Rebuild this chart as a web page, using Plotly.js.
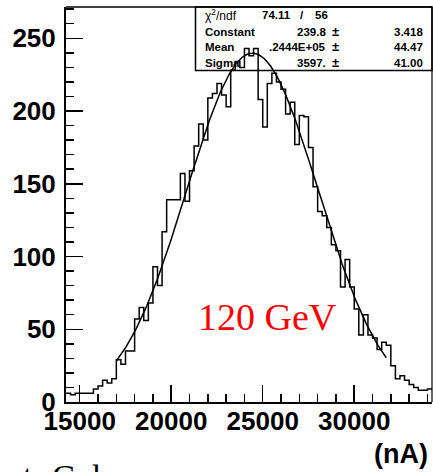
<!DOCTYPE html>
<html>
<head>
<meta charset="utf-8">
<script src="https://cdn.plot.ly/plotly-3.0.1.min.js"></script>
<style>html,body{margin:0;padding:0;background:#fff;}#chart{width:433px;height:472px;}</style>
</head>
<body>
<div id="chart"></div>
<script>
// Histogram binning (nA)
const xMin = 14250;
const binWidth = 250;
// Bin contents (80 bins, 14250..34250)
const counts = [
  6, 5, 6, 6, 6, 6, 9, 11, 15, 13,
  16, 29, 26, 35, 35, 57, 65, 56, 68, 93,
  80, 117, 139, 139, 139, 157, 138, 159, 176, 191,
  180, 209, 212, 219, 211, 203, 228, 234, 230, 243,
  238, 243, 208, 189, 219, 226, 220, 215, 198, 206,
  177, 197, 196, 175, 148, 131, 128, 120, 108, 104,
  79, 98, 79, 64, 46, 60, 46, 44, 36, 41,
  39, 25, 16, 18, 15, 12, 10, 8, 8, 9
];
// Gaussian fit parameters shown in the stats box
const fitConstant = 239.8;
const fitMean = 24440;
const fitSigma = 3597;
const fitLow = 17000;
const fitHigh = 31750;
// Stats box texts
const statLabels = ["Constant", "Mean", "Sigma"];
const statValues = ["239.8", ".2444E+05", "3597."];
const statErrors = ["3.418", "44.47", "41.00"];
const chi2 = "74.11";
const ndf = "56";
// Axis ticks
const xTickStep = 5000, xMinorStep = 1000;
const yTickStep = 50, yMinorStep = 10;
const yMax = 271.5;
const xMax = xMin + binWidth * counts.length;

// step outline of histogram
const stepX = [], stepY = [];
counts.forEach((c, i) => { stepX.push(xMin + i * binWidth); stepY.push(c); });
stepX.push(xMax); stepY.push(counts[counts.length - 1]);

// fit curve
const fitX = [], fitY = [];
const nFit = 300;
for (let k = 0; k <= nFit; k++) {
  const x = fitLow + (fitHigh - fitLow) * k / nFit;
  fitX.push(x);
  fitY.push(fitConstant * Math.exp(-0.5 * Math.pow((x - fitMean) / fitSigma, 2)));
}

// pixel helpers for overlays (plot area: l=66, t=7, w=366, h=395)
const L = 66, T = 7, W = 366, H = 395;
const px = p => (p - L) / W;
const py = p => (T + H - p) / H;

const traces = [
  {x: stepX, y: stepY, type: 'scatter', mode: 'lines',
   line: {shape: 'hv', color: '#000', width: 1.5}, hoverinfo: 'skip'},
  {x: fitX, y: fitY, type: 'scatter', mode: 'lines',
   line: {color: '#000', width: 1.5}, hoverinfo: 'skip'}
];

const sansB = {family: 'Liberation Sans, Arial, sans-serif', color: '#000', weight: 'bold'};
const statFont = Object.assign({}, sansB, {size: 11.5});
const annotations = [];
function ann(text, x, y, xanchor, font) {
  annotations.push({text, x: px(x), y: py(y), xref: 'paper', yref: 'paper',
    xanchor, yanchor: 'middle', showarrow: false, font});
}
const rowY = [15, 31.5, 47, 63];
ann('χ<sup>2</sup>/ndf', 203, rowY[0], 'left', {family: 'Liberation Sans, Arial, sans-serif', size: 12, color: '#000'});
ann(chi2, 276, rowY[0], 'center', statFont);
ann('/', 302, rowY[0], 'center', statFont);
ann(ndf, 321.5, rowY[0], 'center', statFont);
statLabels.forEach((lab, i) => {
  ann(lab, 203, rowY[i + 1], 'left', statFont);
  ann(statValues[i], 328, rowY[i + 1], 'right', statFont);
  ann('±', 335, rowY[i + 1], 'center', Object.assign({}, statFont, {size: 13}));
  ann(statErrors[i], 425, rowY[i + 1], 'right', statFont);
});
annotations.push({text: '120 GeV', x: px(267), y: py(317), xref: 'paper', yref: 'paper',
  xanchor: 'center', yanchor: 'middle', showarrow: false,
  font: {family: 'Liberation Serif, Times New Roman, serif', size: 38, color: '#ff0000'}});
annotations.push({text: '(nA)', x: px(430), y: py(454), xref: 'paper', yref: 'paper',
  xanchor: 'right', yanchor: 'middle', showarrow: false,
  font: Object.assign({}, sansB, {size: 27})});
annotations.push({text: 't', x: px(21), y: py(476), xref: 'paper', yref: 'paper',
  xanchor: 'left', yanchor: 'middle', showarrow: false,
  font: {family: 'Liberation Serif, serif', size: 34, color: '#000'}});
annotations.push({text: 'Gal', x: px(50), y: py(476), xref: 'paper', yref: 'paper',
  xanchor: 'left', yanchor: 'middle', showarrow: false,
  font: {family: 'Liberation Serif, serif', size: 34, color: '#000'}});

const layout = {
  width: 433, height: 472,
  margin: {l: L, r: 433 - L - W, t: T, b: 472 - T - H, pad: 0},
  paper_bgcolor: '#fff', plot_bgcolor: '#fff',
  showlegend: false,
  xaxis: {range: [xMin, xMax], tick0: 0, dtick: xTickStep, tickformat: 'd',
    ticks: 'inside', ticklen: 17, tickwidth: 1.5, tickcolor: '#000',
    minor: {dtick: xMinorStep, tick0: 0, ticks: 'inside', ticklen: 8, tickwidth: 1.5, tickcolor: '#000', showgrid: false},
    showgrid: false, zeroline: false, showline: true, linewidth: 2, linecolor: '#000',
    ticklabelstandoff: -5,
    tickfont: Object.assign({}, sansB, {size: 26})},
  yaxis: {range: [0, yMax], tick0: 0, dtick: yTickStep,
    ticks: 'inside', ticklen: 17, tickwidth: 1.5, tickcolor: '#000',
    minor: {dtick: yMinorStep, tick0: 0, ticks: 'inside', ticklen: 8, tickwidth: 1.5, tickcolor: '#000', showgrid: false},
    showgrid: false, zeroline: false, showline: true, linewidth: 2, linecolor: '#000',
    ticklabelstandoff: 3,
    tickfont: Object.assign({}, sansB, {size: 26})},
  shapes: [
    {type: 'line', xref: 'paper', yref: 'paper', x0: 0, x1: 1, y0: 1, y1: 1, line: {color: '#000', width: 1.5}},
    {type: 'line', xref: 'paper', yref: 'paper', x0: 1, x1: 1, y0: 0, y1: 1, line: {color: '#000', width: 1.2}},
    {type: 'rect', xref: 'paper', yref: 'paper', x0: px(195.5), x1: 1, y0: py(70.5), y1: 1,
     line: {color: '#000', width: 1.5}, fillcolor: 'rgba(0,0,0,0)'}
  ],
  annotations
};

Plotly.newPlot('chart', traces, layout, {staticPlot: true, displayModeBar: false});
</script>
</body>
</html>
